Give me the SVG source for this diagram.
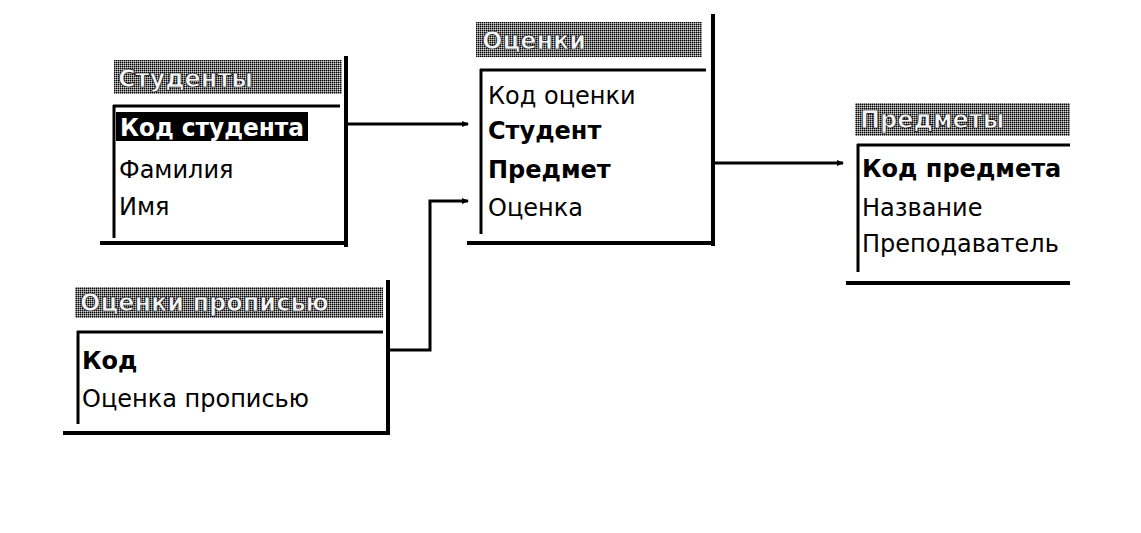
<svg xmlns="http://www.w3.org/2000/svg" width="1141" height="533" viewBox="0 0 1141 533">
<style>
.title{fill:url(#dither)}
.ttext{font-family:"DejaVu Sans",sans-serif;font-size:24px;font-weight:bold;fill:#f4f4f4;stroke:#000;stroke-width:0.7px}
.f{font-family:"DejaVu Sans",sans-serif;font-size:24px;fill:#000}
.b{font-weight:bold}
.thin{stroke:#000;stroke-width:3;fill:none}
.thick{stroke:#000;stroke-width:4;fill:none}
.conn{stroke:#000;stroke-width:3;fill:none;marker-end:url(#arr)}
</style>
<defs>
<pattern id="dither" width="2" height="2" patternUnits="userSpaceOnUse">
<rect width="2" height="2" fill="#7a7a7a"/>
<rect x="0" y="0" width="1" height="1" fill="#000"/>
<rect x="1" y="1" width="1" height="1" fill="#cfcfcf"/>
</pattern>
<marker id="arr" markerWidth="8" markerHeight="8" refX="6" refY="4" orient="auto" markerUnits="userSpaceOnUse">
<path d="M0,1 L7,4 L0,7 Z" fill="#000"/>
</marker>
</defs>
<rect width="1141" height="533" fill="#fff"/>

<g id="connectors">
<path class="conn" d="M347,124 H468"/>
<path class="conn" d="M388,350 H430 V201 H468"/>
<path class="conn" d="M713,163 H843"/>
</g>

<g id="students">
<rect class="title" x="114" y="60" width="228" height="34"/>
<text class="ttext" x="118" y="87">Студенты</text>
<line class="thin" x1="113" y1="106" x2="340" y2="106"/>
<line class="thin" x1="114" y1="105" x2="114" y2="238"/>
<line class="thick" x1="346" y1="56" x2="346" y2="247"/>
<line class="thick" x1="100" y1="243" x2="348" y2="243"/>
<rect x="116" y="112" width="192" height="29" fill="#000"/>
<text class="f b" x="120" y="136" style="fill:#fff" textLength="184" lengthAdjust="spacingAndGlyphs">Код студента</text>
<text class="f" x="119" y="178">Фамилия</text>
<text class="f" x="119" y="215">Имя</text>
</g>

<g id="grades">
<rect class="title" x="476" y="22" width="226" height="35"/>
<text class="ttext" x="482" y="49">Оценки</text>
<line class="thin" x1="480" y1="70" x2="706" y2="70"/>
<line class="thin" x1="481" y1="69" x2="481" y2="234"/>
<line class="thick" x1="713" y1="14" x2="713" y2="246"/>
<line class="thick" x1="467" y1="243" x2="714" y2="243"/>
<text class="f" x="488" y="104">Код оценки</text>
<text class="f b" x="488" y="139">Студент</text>
<text class="f b" x="488" y="178">Предмет</text>
<text class="f" x="488" y="216">Оценка</text>
</g>

<g id="subjects">
<rect class="title" x="855" y="103" width="215" height="33"/>
<text class="ttext" x="860" y="128">Предметы</text>
<line class="thin" x1="857" y1="145" x2="1070" y2="145"/>
<line class="thin" x1="858" y1="144" x2="858" y2="272"/>
<line class="thick" x1="846" y1="283" x2="1070" y2="283"/>
<text class="f b" x="862" y="177">Код предмета</text>
<text class="f" x="862" y="216">Название</text>
<text class="f" x="862" y="252">Преподаватель</text>
</g>

<g id="grade-words">
<rect class="title" x="75" y="287" width="308" height="31"/>
<text class="ttext" x="80" y="311">Оценки прописью</text>
<line class="thin" x1="77" y1="332" x2="383" y2="332"/>
<line class="thin" x1="78" y1="331" x2="78" y2="424"/>
<line class="thick" x1="388" y1="280" x2="388" y2="435"/>
<line class="thick" x1="63" y1="433" x2="389" y2="433"/>
<text class="f b" x="82" y="369">Код</text>
<text class="f" x="82" y="407">Оценка прописью</text>
</g>
</svg>
